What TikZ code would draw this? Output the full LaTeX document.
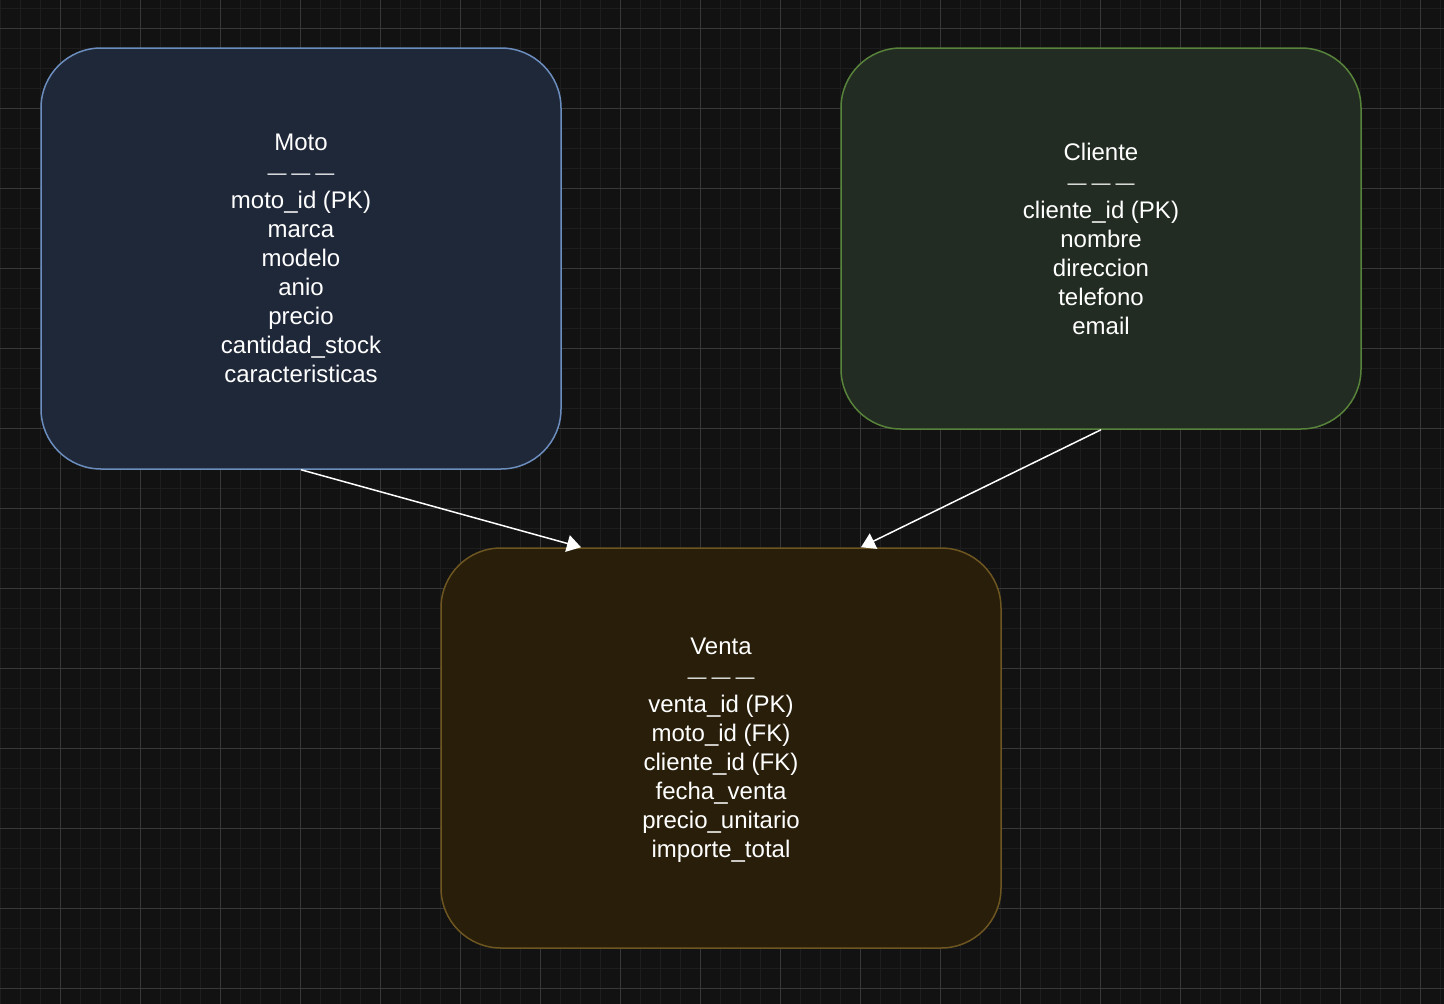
\documentclass[tikz,border=0pt]{standalone}
\usepackage{fontspec}
\setmainfont{Liberation Sans}
\usetikzlibrary{arrows.meta}
\definecolor{bgdark}{HTML}{121212}
\definecolor{gridminor}{HTML}{1E1E1E}
\definecolor{gridmajor}{HTML}{383838}
\definecolor{motofill}{HTML}{1F2839}
\definecolor{motoline}{HTML}{6C8EBF}
\definecolor{clientefill}{HTML}{222C22}
\definecolor{clienteline}{HTML}{58833A}
\definecolor{ventafill}{HTML}{281E0A}
\definecolor{ventaline}{HTML}{6E5620}
\tikzset{
  tabla/.style={rounded corners=60pt, line width=1.5pt, text=white, align=center,
    font=\fontsize{24}{29}\selectfont, inner sep=0pt},
  enlace/.style={draw=white, line width=1.5pt, -{Triangle[length=14pt,width=17pt]}}
}
\newcommand{\raya}{{\fontsize{19}{29}\selectfont —\kern5pt—\kern5pt—}}

\begin{document}
\begin{tikzpicture}[x=1pt,y=-1pt]
			%%%%% START %%%%%
			
			\fill[bgdark] (0, 0) rectangle (1444, 1004);
			\useasboundingbox (0, 0) rectangle (1444, 1004);
			
			\foreach \gx in {0,20,...,1440}
				\draw[gridminor, line width=1pt] (\gx, 0) -- (\gx, 1004);
			\foreach \gy in {8,28,...,1000}
				\draw[gridminor, line width=1pt] (0, \gy) -- (1444, \gy);
			\foreach \gx in {60,140,...,1440}
				\draw[gridmajor, line width=1pt] (\gx, 0) -- (\gx, 1004);
			\foreach \gy in {28,108,...,1000}
				\draw[gridmajor, line width=1pt] (0, \gy) -- (1444, \gy);
			
			\node[tabla, draw=motoline, fill=motofill, minimum width=520pt, minimum height=421pt]
				(moto) at (301, 258.5)
				{Moto\\ \raya\\ moto\_id (PK)\\ marca\\ modelo\\ anio\\ precio\\ cantidad\_stock\\ caracteristicas};
			
			\node[tabla, draw=clienteline, fill=clientefill, minimum width=520pt, minimum height=381pt]
				(cliente) at (1101, 238.5)
				{Cliente\\ \raya\\ cliente\_id (PK)\\ nombre\\ direccion\\ telefono\\ email};
			
			\node[tabla, draw=ventaline, fill=ventafill, minimum width=560pt, minimum height=400pt, text depth=0pt]
				(venta) at (721, 748)
				{Venta\\ \raya\\ venta\_id (PK)\\ moto\_id (FK)\\ cliente\_id (FK)\\ fecha\_venta\\ precio\_unitario\\ importe\_total};
			
			\draw[enlace] (moto.south) -- ([xshift=-140pt]venta.north);
			\draw[enlace] (cliente.south) -- ([xshift=140pt]venta.north);
			
			%%%%% END %%%%%
\end{tikzpicture}
\end{document}
